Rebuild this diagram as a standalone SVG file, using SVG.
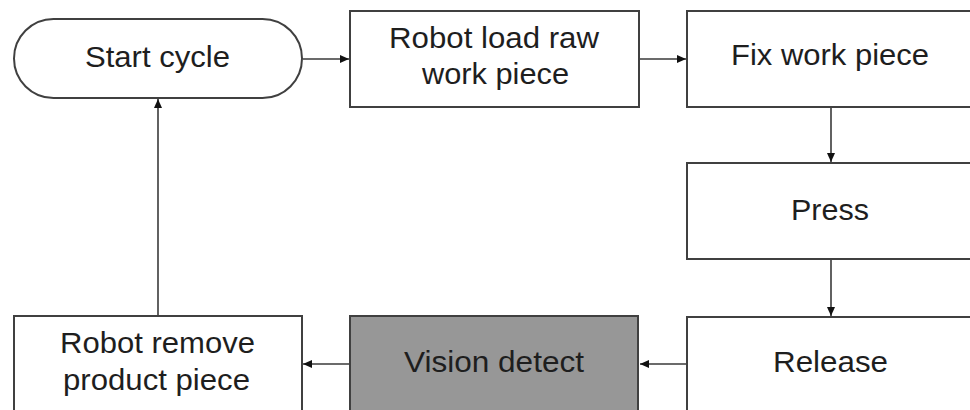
<svg xmlns="http://www.w3.org/2000/svg" width="970" height="410" viewBox="0 0 970 410">
<style>
.box{fill:#ffffff;stroke:#404040;stroke-width:2}
.dark{fill:#979797}
.lbl{font-family:"Liberation Sans",Arial,sans-serif;font-size:29px;fill:#1e1e1e;text-anchor:middle}
.con{fill:none;stroke:#3a3a3a;stroke-width:1.6}
</style>
<defs>
<marker id="ah" markerWidth="10" markerHeight="10" refX="9" refY="4" orient="auto" markerUnits="userSpaceOnUse">
<path d="M0,0 L9,4 L0,8 Z" fill="#111"/>
</marker>
</defs>
<rect width="970" height="410" fill="#ffffff"/>
<g id="connectors">
<line class="con" x1="303" y1="59" x2="349" y2="59" marker-end="url(#ah)"/>
<line class="con" x1="639" y1="59" x2="686" y2="59" marker-end="url(#ah)"/>
<line class="con" x1="831" y1="107" x2="831" y2="162" marker-end="url(#ah)"/>
<line class="con" x1="831" y1="259" x2="831" y2="316" marker-end="url(#ah)"/>
<line class="con" x1="687" y1="364" x2="640" y2="364" marker-end="url(#ah)"/>
<line class="con" x1="350" y1="364" x2="303" y2="364" marker-end="url(#ah)"/>
<line class="con" x1="158" y1="316" x2="158" y2="99" marker-end="url(#ah)"/>
</g>
<g id="start">
<rect class="box" x="14" y="19" width="288" height="79" rx="39.5" ry="39.5"/>
<text class="lbl" x="157.5" y="67" textLength="145" lengthAdjust="spacingAndGlyphs">Start cycle</text>
</g>
<g id="load">
<rect class="box" x="350" y="11" width="289" height="96"/>
<text class="lbl" x="494" y="48" textLength="210" lengthAdjust="spacingAndGlyphs">Robot load raw</text>
<text class="lbl" x="495.5" y="83.5" textLength="147" lengthAdjust="spacingAndGlyphs">work piece</text>
</g>
<g id="fix">
<rect class="box" x="687" y="11" width="300" height="96"/>
<text class="lbl" x="830" y="65" textLength="198" lengthAdjust="spacingAndGlyphs">Fix work piece</text>
</g>
<g id="press">
<rect class="box" x="687" y="163" width="300" height="96"/>
<text class="lbl" x="830" y="220" textLength="78" lengthAdjust="spacingAndGlyphs">Press</text>
</g>
<g id="release">
<rect class="box" x="687" y="317" width="300" height="110"/>
<text class="lbl" x="830.5" y="372" textLength="115" lengthAdjust="spacingAndGlyphs">Release</text>
</g>
<g id="vision">
<rect class="box dark" x="350" y="316" width="288" height="110"/>
<text class="lbl" x="494" y="372" textLength="180" lengthAdjust="spacingAndGlyphs">Vision detect</text>
</g>
<g id="remove">
<rect class="box" x="14" y="316" width="288" height="110"/>
<text class="lbl" x="157.5" y="353" textLength="195" lengthAdjust="spacingAndGlyphs">Robot remove</text>
<text class="lbl" x="156.5" y="390" textLength="187" lengthAdjust="spacingAndGlyphs">product piece</text>
</g>
</svg>
